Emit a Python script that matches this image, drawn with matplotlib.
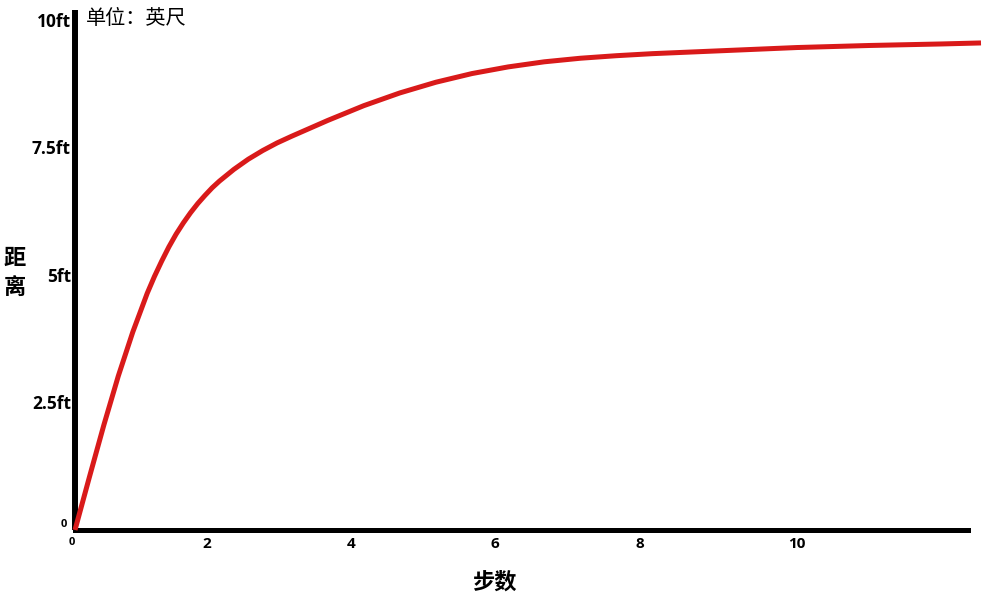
import matplotlib.pyplot as plt
import matplotlib.transforms as mtransforms

# curve (denser where it bends)
steps = [0, 0.2, 0.4, 0.6, 0.8, 1.0, 1.1, 1.2, 1.3, 1.4, 1.5, 1.6, 1.7,
         1.8, 1.9, 2.0, 2.2, 2.4, 2.6, 2.8, 3.0, 3.5, 4.0, 4.5, 5.0, 5.5,
         6.0, 6.5, 7.0, 7.5, 8.0, 9.0, 10.0, 11.0, 12.0, 12.55]
distance = [0, 1.04, 2.06, 3.02, 3.88, 4.64, 4.97, 5.27, 5.55, 5.8, 6.02,
            6.22, 6.4, 6.56, 6.71, 6.84, 7.07, 7.27, 7.44, 7.59, 7.72, 8.03,
            8.32, 8.57, 8.78, 8.95, 9.08, 9.18, 9.25, 9.3, 9.34, 9.4, 9.46,
            9.5, 9.53, 9.55]

x_ticks = [0, 2, 4, 6, 8, 10]
y_ticks = [0, 2.5, 5, 7.5, 10]
y_labels = ['0', '2.5ft', '5ft', '7.5ft', '10ft']

latin = ['Open Sans', 'Noto Sans CJK SC', 'DejaVu Sans']
cjk = ['Noto Sans CJK SC', 'DejaVu Sans']
plt.rcParams['font.family'] = latin

fig = plt.figure(figsize=(10, 6.12), dpi=100)
ax = fig.add_axes([0.075, 0.134, 0.906, 0.85])

ax.plot(steps, distance, color='#d91a1a', lw=3.6, zorder=3,
        clip_on=False, solid_capstyle='butt', solid_joinstyle='round')

ax.set_xlim(0, 12.55)
ax.set_ylim(0, 10.2)

for side in ['top', 'right']:
    ax.spines[side].set_visible(False)
ax.spines['left'].set_linewidth(4.3)
ax.spines['bottom'].set_linewidth(3.6)
ax.spines['bottom'].set_bounds(0, 12.37)
ax.spines['left'].set_capstyle('butt')

ax.set_xticks(x_ticks)
ax.set_xticklabels([str(t) for t in x_ticks])
ax.set_yticks(y_ticks)
ax.set_yticklabels(y_labels)
ax.tick_params(length=0)
ax.tick_params(axis='y', pad=3, labelsize=12.5)
ax.tick_params(axis='x', pad=5, labelsize=11)
for lab in ax.get_xticklabels() + ax.get_yticklabels():
    lab.set_fontweight('bold')

# the middle x labels sit a bit to the left in the original
shift = mtransforms.ScaledTranslation(-13 / 100, 0, fig.dpi_scale_trans)
for lab in ax.get_xticklabels()[1:5]:
    lab.set_transform(lab.get_transform() + shift)

# the two zero labels are smaller, the y one sits above the axis
x0 = ax.get_xticklabels()[0]
x0.set_fontsize(8)
x0.set_ha('right')
y0 = ax.get_yticklabels()[0]
y0.set_fontsize(8)
y0.set_va('bottom')
y0.set_transform(y0.get_transform() +
                 mtransforms.ScaledTranslation(-4 / 100, 0, fig.dpi_scale_trans))

fig.text(0.495, 1 - 582 / 612, '步数', ha='center', va='center',
         fontsize=16, fontweight='bold', family=cjk)
fig.text(0.015, 1 - 273 / 612, '距\n离', ha='center', va='center',
         fontsize=16, fontweight='bold', family=cjk, linespacing=1.3)
fig.text(0.086, 1 - 18 / 612, '单位：英尺', ha='left', va='center',
         fontsize=14.5, family=cjk)

fig.savefig('out.png', dpi=100, facecolor='white')
